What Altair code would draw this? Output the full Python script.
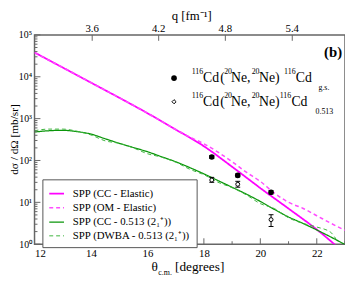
import altair as alt
import numpy as np
import pandas as pd

# ---------------- data ----------------
theta_cc_el = [12, 13, 14, 15, 16, 17, 18, 19, 20, 21, 22, 23]
xs_cc_el = [38000, 16600, 7240, 3160, 1350, 550, 219, 70.8, 21.9, 7.08, 2.24, 0.60]

theta_om_el = [12, 13, 14, 15, 16, 17, 17.5, 18, 18.5, 19, 19.5, 20, 20.5, 21, 21.5, 22, 22.5, 23]
xs_om_el = [38000, 16600, 7240, 3160, 1350, 550, 363, 251, 158, 93.3, 52.5, 31.6, 16.6, 10.0, 7.24, 4.79, 3.16, 2.14]

theta_cc_in = [12, 12.5, 13, 13.5, 14, 14.5, 15, 15.5, 16, 16.5, 17, 17.5, 18, 18.5, 19, 19.5,
               20, 20.5, 21, 21.5, 22, 22.5, 23]
xs_cc_in = [479, 513, 525, 490, 427, 331, 257, 204, 162, 123, 93.3, 67.6, 47.9, 33.1, 22.9, 15.8,
            10.5, 6.76, 4.47, 3.16, 2.19, 1.48, 0.98]

theta_dwba = [12, 12.5, 13, 13.5, 14, 14.5, 15, 15.5, 16, 16.5, 17, 17.5, 18, 18.5, 19, 19.5,
              20, 20.5, 21, 21.5, 22, 22.5, 22.7]
xs_dwba = [513, 562, 562, 501, 407, 295, 257, 200, 145, 120, 91.2, 61.7, 45.7, 30.2, 22.4, 15.1,
           9.33, 7.08, 4.27, 3.16, 2.57, 1.91, 1.26]

exp_theta = [18.28, 19.2, 20.38]
exp_gs = [121, 44, 17.3]
exp_gs_lo = [112, 40.5, 15.8]
exp_gs_hi = [131, 48, 19.0]
exp_ex = [34.1, 27.0, 3.86]
exp_ex_lo = [30.1, 23.0, 2.65]
exp_ex_hi = [39.5, 31.8, 5.06]

series_names = ["SPP (CC - Elastic)", "SPP (OM - Elastic)",
                "SPP (CC - 0.513 (2\u2081\u207a))", "SPP (DWBA - 0.513 (2\u2081\u207a))"]
series_colors = ["#ff00ff", "#ff4cff", "#0a960a", "#3cb43c"]
series_dash = [[1, 0], [4, 3], [1, 0], [4, 3]]
series_width = [1.8, 1.0, 1.8, 1.0]

x_major = [12, 14, 16, 18, 20, 22]
x_minor = [13, 15, 17, 19, 21, 23]
y_major = [1, 10, 100, 1000, 10000, 100000]
y_minor = [m * 10 ** k for k in range(5) for m in range(2, 10)]
q_ticks = [3.6, 4.2, 4.8, 5.4]
q_labels = ["3.6", "4.2", "4.8", "5.4"]
two_k = 29.45  # q = 2k sin(theta/2)

# ---------------- layout ----------------
W, H = 316, 213
FONT = "Liberation Serif"
FRAME = "#666666"

frames = []
for name, th, v in [(series_names[0], theta_cc_el, xs_cc_el),
                    (series_names[1], theta_om_el, xs_om_el),
                    (series_names[2], theta_cc_in, xs_cc_in),
                    (series_names[3], theta_dwba, xs_dwba)]:
    frames.append(pd.DataFrame({"theta": th, "xs": v, "series": name}))
df_lines = pd.concat(frames, ignore_index=True)

df_exp = pd.DataFrame({"theta": exp_theta, "gs": exp_gs, "gs_lo": exp_gs_lo, "gs_hi": exp_gs_hi,
                       "ex": exp_ex, "ex_lo": exp_ex_lo, "ex_hi": exp_ex_hi})

x_scale = alt.Scale(domain=[12, 23], nice=False, zero=False)
y_scale = alt.Scale(type="log", domain=[1, 100000], nice=False)

x_axis = alt.Axis(values=x_major, title=None, labelFont=FONT, labelFontSize=11,
                  labelColor="black", labelPadding=4, ticks=False, domain=False, grid=False)
y_axis = alt.Axis(values=y_major, title=None,
                  labelFont=FONT, labelFontSize=10, labelColor="black", labelPadding=3,
                  labelExpr="'10' + ['\u2070','\u00b9','\u00b2','\u00b3','\u2074','\u2075'][round(log(datum.value)/LN10)]",
                  ticks=False, domain=False, grid=False)


def X(field):
    return alt.X(field, type="quantitative", scale=x_scale, axis=x_axis)


def Y(field):
    return alt.Y(field, type="quantitative", scale=y_scale, axis=y_axis)


legend = alt.Legend(title=None, orient="none", legendX=8, legendY=147, padding=6,
                    strokeColor="#555555", fillColor="white", labelFont=FONT, labelFontSize=11,
                    labelColor="black", symbolType="stroke", symbolSize=225, rowPadding=0.5,
                    labelOffset=8)

lines = alt.Chart(df_lines).mark_line(clip=True, interpolate="monotone").encode(
    x=X("theta"),
    y=Y("xs"),
    color=alt.Color("series:N", scale=alt.Scale(domain=series_names, range=series_colors), legend=legend),
    strokeDash=alt.StrokeDash("series:N", scale=alt.Scale(domain=series_names, range=series_dash), legend=legend),
    strokeWidth=alt.StrokeWidth("series:N", scale=alt.Scale(domain=series_names, range=series_width), legend=legend),
)

gs_bar = alt.Chart(df_exp).mark_rule(color="black", strokeWidth=1).encode(x=X("theta"), y=Y("gs_lo"), y2="gs_hi")
ex_bar = alt.Chart(df_exp).mark_rule(color="black", strokeWidth=1).encode(x=X("theta"), y=Y("ex_lo"), y2="ex_hi")
caps = []
for f in ["gs_lo", "gs_hi", "ex_lo", "ex_hi"]:
    caps.append(alt.Chart(df_exp).mark_tick(orient="horizontal", size=5, thickness=1, color="black",
                                            opacity=1).encode(x=X("theta"), y=Y(f)))
gs_pts = alt.Chart(df_exp).mark_point(shape="circle", filled=True, size=32, color="black",
                                      opacity=1).encode(x=X("theta"), y=Y("gs"))
ex_pts = alt.Chart(df_exp).mark_point(shape="circle", filled=True, size=16, fill="white", stroke="black",
                                      strokeWidth=1, opacity=1).encode(x=X("theta"), y=Y("ex"))

# tick marks (inward)
df_xmaj = pd.DataFrame({"t": x_major})
df_xmin = pd.DataFrame({"t": x_minor})
df_ymaj = pd.DataFrame({"v": y_major})
df_ymin = pd.DataFrame({"v": y_minor})
df_q = pd.DataFrame({"q": q_ticks, "lab": q_labels})
df_q["theta"] = 2 * np.degrees(np.arcsin(df_q["q"] / two_k))

tick_col = FRAME
xmaj = alt.Chart(df_xmaj).mark_rule(color=tick_col, strokeWidth=1).encode(
    x=X("t"), y=alt.value(H), y2=alt.value(H - 6))
xmin = alt.Chart(df_xmin).mark_rule(color=tick_col, strokeWidth=1).encode(
    x=X("t"), y=alt.value(H), y2=alt.value(H - 3))
ymaj = alt.Chart(df_ymaj).mark_rule(color=tick_col, strokeWidth=1).encode(
    y=Y("v"), x=alt.value(0), x2=alt.value(6))
ymin = alt.Chart(df_ymin).mark_rule(color=tick_col, strokeWidth=1).encode(
    y=Y("v"), x=alt.value(0), x2=alt.value(3))
qtick = alt.Chart(df_q).mark_rule(color=tick_col, strokeWidth=1).encode(
    x=X("theta"), y=alt.value(0), y2=alt.value(6))
qlab = alt.Chart(df_q).mark_text(font=FONT, fontSize=11, baseline="middle", color="black").encode(
    x=X("theta"), y=alt.value(-6), text="lab:N")


def txt(s, x, y, size, align="left", weight="normal", angle=0):
    return alt.Chart(pd.DataFrame({"s": [s]})).mark_text(
        font=FONT, fontSize=size, align=align, baseline="middle", fontWeight=weight, color="black",
        angle=angle
    ).encode(x=alt.value(x), y=alt.value(y), text="s:N")


annots = [
    txt("q [fm\u207b\u00b9]", W / 2 + 2, -19, 13, align="center"),
    txt("d\u03c3 / d\u03a9  [mb/sr]", -20, H / 2, 11.5, align="center", angle=270),
    txt("\u03b8", 119, 236.5, 13.5),
    txt("c.m.", 126, 242, 8),
    txt("[degrees]", 143, 236.5, 13.5),
    txt("(b)", 313, 17, 15, align="right", weight="bold"),
]

# data legend (top right)
rows = [(44, "g.s.", 253, 265, 288), (68, "0.513", 248.5, 260.5, 285)]
for yc, sub, x116, xcd, xsub in rows:
    annots += [
        txt("116", 160, yc - 6, 8),
        txt("Cd", 171.5, yc, 14),
        txt("(", 189, yc, 14),
        txt("20", 193, yc - 6, 8),
        txt("Ne,", 200, yc, 14),
        txt("20", 221, yc - 6, 8),
        txt("Ne)", 228.5, yc, 14),
        txt("116", x116 + 1, yc - 6, 8),
        txt("Cd", xcd + 1, yc, 14),
        txt(sub, xsub + 1, yc + 10, 8),
    ]

leg_pts = [
    alt.Chart(pd.DataFrame({"a": [0]})).mark_point(shape="circle", filled=True, size=32, color="black",
                                                   opacity=1).encode(x=alt.value(142), y=alt.value(44)),
    alt.Chart(pd.DataFrame({"a": [0]})).mark_point(shape="diamond", filled=True, size=18, fill="white",
                                                   stroke="black", strokeWidth=1, opacity=1).encode(
        x=alt.value(142), y=alt.value(68)),
]

chart = alt.layer(
    lines, xmaj, xmin, ymaj, ymin, qtick, qlab,
    gs_bar, ex_bar, *caps, gs_pts, ex_pts,
    *annots, *leg_pts,
).properties(
    width=W, height=H,
    padding={"left": 27, "top": 25, "right": 0, "bottom": 31},
    autosize=alt.AutoSizeParams(type="none"),
).configure_view(
    stroke=FRAME, strokeWidth=1.5
).configure_axis(grid=False)

chart.save("out.html", embed_options={"renderer": "svg", "actions": False})
